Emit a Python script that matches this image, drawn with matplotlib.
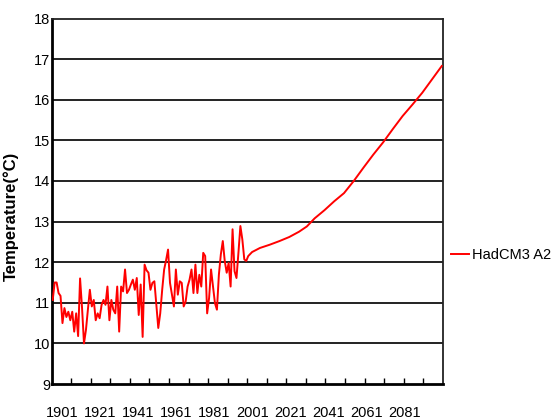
import numpy as np
import matplotlib
matplotlib.use('Agg')
import matplotlib.pyplot as plt

plt.rcParams['font.family'] = ['Liberation Sans', 'DejaVu Sans']

# observed annual temperature, 1901-2000
hist_years = list(range(1901, 2001))
hist_temp = [
    11.07, 11.50, 11.50, 11.24, 11.17, 10.50, 10.87, 10.65, 10.78, 10.57,
    10.78, 10.29, 10.74, 10.18, 11.60, 10.88, 10.00, 10.33, 10.83, 11.32,
    10.91, 11.07, 10.57, 10.74, 10.62, 10.95, 11.07, 10.95, 11.40, 10.57,
    11.07, 10.83, 10.74, 11.40, 10.29, 11.40, 11.28, 11.82, 11.24, 11.32,
    11.45, 11.57, 11.32, 11.61, 10.70, 11.45, 10.16, 11.94, 11.80, 11.74,
    11.32, 11.49, 11.53, 10.96, 10.38, 10.74, 11.32, 11.82, 12.05, 12.31,
    11.49, 11.20, 10.91, 11.82, 11.20, 11.53, 11.49, 10.91, 11.03, 11.40,
    11.57, 11.82, 11.24, 11.94, 11.24, 11.69, 11.40, 12.23, 12.15, 10.74,
    11.12, 11.82, 11.40, 10.99, 10.83, 11.69, 12.19, 12.52, 12.03, 11.74,
    11.98, 11.40, 12.81, 11.78, 11.61, 12.23, 12.89, 12.56, 12.07, 12.03,
]

# HadCM3 A2 projection
proj_years = [2001, 2003, 2007, 2012, 2017, 2022, 2027, 2031, 2035, 2040,
              2045, 2050, 2055, 2060, 2065, 2070, 2075, 2080, 2085, 2090,
              2095, 2100]
proj_temp = [12.15, 12.25, 12.35, 12.43, 12.52, 12.62, 12.75, 12.88, 13.08,
             13.28, 13.50, 13.70, 14.00, 14.33, 14.65, 14.95, 15.28, 15.60,
             15.88, 16.17, 16.50, 16.83]

y_ticks = list(range(9, 19))
grid_levels = list(range(10, 18))
x_labels = ['1901', '1921', '1941', '1961', '1981', '2001', '2021', '2041',
            '2061', '2081']
x_label_pos = [1905.6 + 19.49 * i for i in range(len(x_labels))]
x_minor = [1910.5 + 10 * i for i in range(19)]

years = hist_years + proj_years
temps = hist_temp + proj_temp

fig = plt.figure(figsize=(5.55, 4.19), dpi=100)
ax = fig.add_axes([0.0932, 0.0835, 0.7045, 0.8723])

for lv in grid_levels:
    ax.axhline(lv, color='#222222', linewidth=1.4, zorder=1)

line, = ax.plot(years, temps, color='#ff0000', linewidth=1.4, zorder=3,
                label='HadCM3 A2')

ax.set_xlim(1900.5, 2100.5)
ax.set_ylim(9, 18)

ax.set_yticks(y_ticks)
ax.set_yticklabels([str(v) for v in y_ticks], fontsize=10.5)
ax.tick_params(axis='y', length=0, pad=1)

ax.set_xticks(x_label_pos)
ax.set_xticklabels(x_labels, fontsize=10.5)
ax.set_xticks(x_minor, minor=True)
ax.tick_params(axis='x', which='major', length=0, pad=15.5)
ax.tick_params(axis='x', which='minor', direction='in', length=4,
               width=1, color='black')

for side in ('left', 'bottom'):
    ax.spines[side].set_linewidth(2)
    ax.spines[side].set_color('black')
for side in ('top', 'right'):
    ax.spines[side].set_linewidth(1.3)
    ax.spines[side].set_color('#222222')

ax.set_ylabel('Temperature(\u00b0C)', fontsize=12, fontweight='bold')
ax.yaxis.set_label_coords(-0.084, 0.46)

ax.legend(handles=[line], loc='center left', bbox_to_anchor=(1.005, 0.354),
          frameon=False, fontsize=10.5, handlelength=1.3, handletextpad=0.15,
          borderaxespad=0)

fig.savefig('out.png', dpi=100)
